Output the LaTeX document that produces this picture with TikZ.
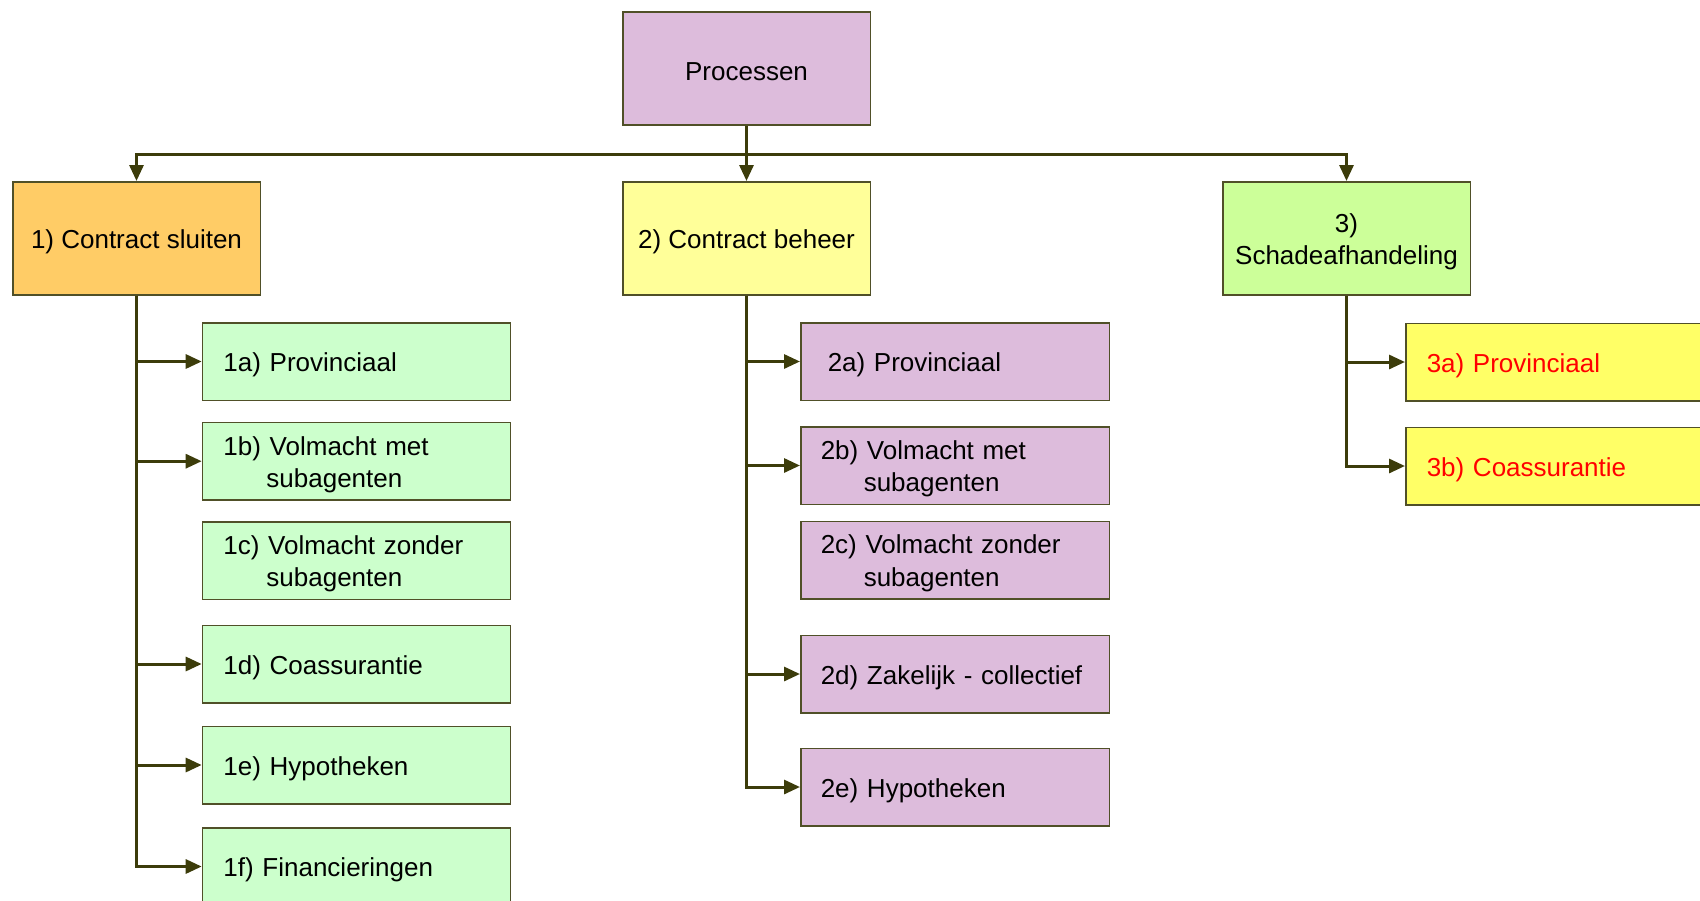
\documentclass[tikz,border=0pt]{standalone}
\usepackage{fontspec}
\setmainfont{Liberation Sans}
\usetikzlibrary{arrows.meta}
\definecolor{lilac}{RGB}{221,188,220}
\definecolor{orangebox}{RGB}{255,204,102}
\definecolor{paleyellow}{RGB}{255,255,153}
\definecolor{palegreen}{RGB}{204,255,153}
\definecolor{mintgreen}{RGB}{204,255,204}
\definecolor{brightyellow}{RGB}{255,255,102}
\definecolor{bordercol}{RGB}{80,80,40}
\definecolor{conncol}{RGB}{60,60,10}
\definecolor{redtext}{RGB}{255,0,0}
\begin{document}
\begin{tikzpicture}[x=1pt,y=-1pt,
  font=\fontsize{26pt}{32.5pt}\selectfont,
  basebox/.style={draw=bordercol, line width=1.5pt, anchor=north west, inner sep=0pt, text height=25.5pt},
  topbox/.style={basebox, minimum width=247.5pt, minimum height=113pt, align=center},
  childbox/.style={basebox, minimum width=308pt, minimum height=77.5pt, inner xsep=21pt, text width=266pt, align=left},
  conn/.style={draw=conncol, line width=3pt, -{Triangle[length=16pt,width=14pt]}},
  plainconn/.style={draw=conncol, line width=3pt}
]
\useasboundingbox (0,0) rectangle (1700,900);

% top level
\node[topbox, fill=lilac] (proc) at (622,11) {Processen};
\node[topbox, fill=orangebox] (c1) at (12,181) {1) Contract sluiten};
\node[topbox, fill=paleyellow] (c2) at (622,181) {2) Contract beheer};
\node[topbox, fill=palegreen, text width=247.5pt] (c3) at (1222,181) {3)\hspace*{8.5pt}\\Schadeafhandeling};

% column 1
\node[childbox, fill=mintgreen] (n1a) at (201.7,322) {1a) Provinciaal};
\node[childbox, fill=mintgreen] (n1b) at (201.7,421.7) {1b) Volmacht met\\\hspace*{43pt}subagenten};
\node[childbox, fill=mintgreen] (n1c) at (201.7,521) {1c) Volmacht zonder\\\hspace*{43pt}subagenten};
\node[childbox, fill=mintgreen] (n1d) at (201.7,624.5) {1d) Coassurantie};
\node[childbox, fill=mintgreen] (n1e) at (201.7,725.5) {1e) Hypotheken};
\node[childbox, fill=mintgreen] (n1f) at (201.7,827) {1f) Financieringen};

% column 2
\node[childbox, fill=lilac, inner xsep=20pt, text width=268.5pt] (n2a) at (800,322) {\hspace*{7pt}2a) Provinciaal};
\node[childbox, fill=lilac, inner xsep=20pt, text width=268.5pt] (n2b) at (800,426) {2b) Volmacht met\\\hspace*{43pt}subagenten};
\node[childbox, fill=lilac, inner xsep=20pt, text width=268.5pt] (n2c) at (800,520.5) {2c) Volmacht zonder\\\hspace*{43pt}subagenten};
\node[childbox, fill=lilac, inner xsep=20pt, text width=268.5pt] (n2d) at (800,634.5) {2d) Zakelijk - collectief};
\node[childbox, fill=lilac, inner xsep=20pt, text width=268.5pt] (n2e) at (800,747.5) {2e) Hypotheken};

% column 3
\node[childbox, fill=brightyellow, text=redtext] (n3a) at (1405,322.5) {3a) Provinciaal};
\node[childbox, fill=brightyellow, text=redtext] (n3b) at (1405,426.5) {3b) Coassurantie};

% top connectors
\draw[plainconn] (proc.south) -- ++(0,28.5) coordinate (bus);
\draw[conn] (bus) -| (c1.north);
\draw[conn] (bus) -- (c2.north);
\draw[conn] (bus) -| (c3.north);

% column 1 connectors
\foreach \n in {n1a,n1b,n1d,n1e,n1f}
  \draw[conn] (c1.south) |- (\n.west);
% column 2 connectors
\foreach \n in {n2a,n2b,n2d,n2e}
  \draw[conn] (c2.south) |- (\n.west);
% column 3 connectors
\foreach \n in {n3a,n3b}
  \draw[conn] (c3.south) |- (\n.west);
\end{tikzpicture}
\end{document}
